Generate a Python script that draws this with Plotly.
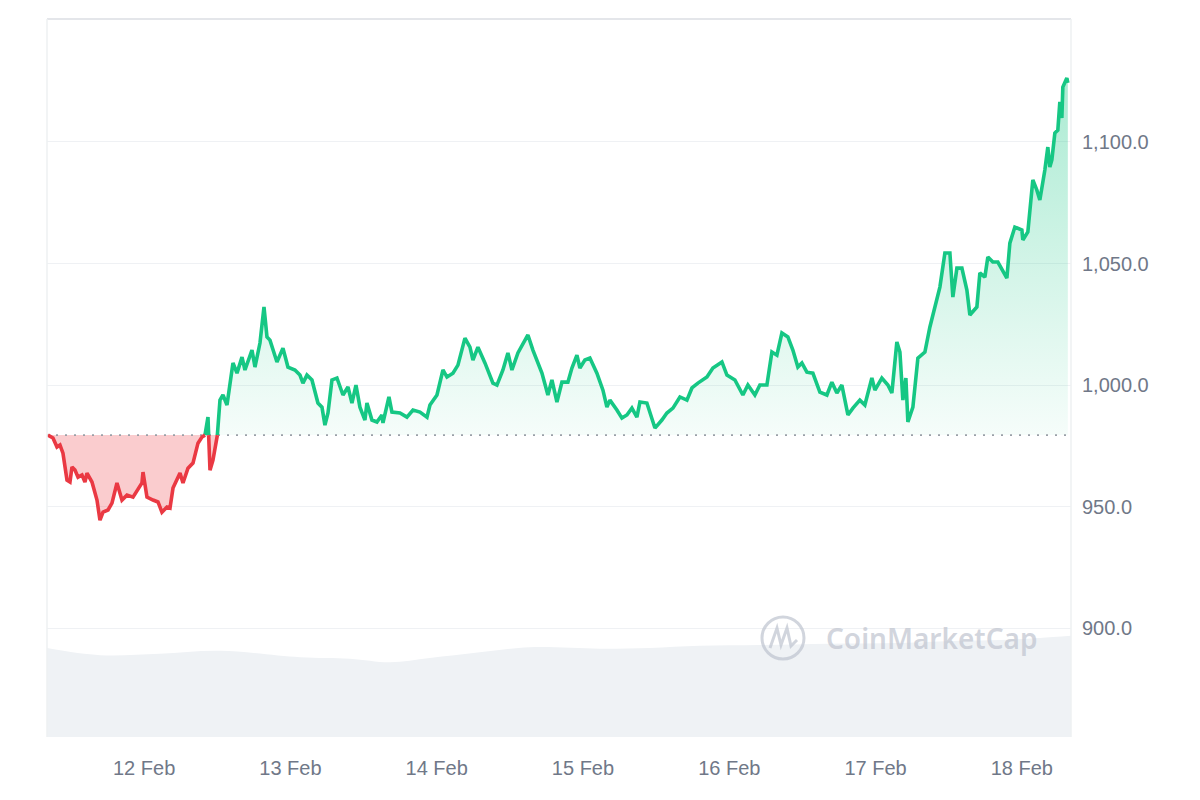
import plotly.graph_objects as go
import pandas as pd

# ---------------- data ----------------
START = "2023-02-11 08:04"          # left edge of the 7-day window
SPAN_HOURS = 168

hours = [
    0.16, 0.98, 1.64, 2.13, 2.62, 3.28, 3.77, 4.10, 4.59, 5.09,
    5.74, 6.23, 6.56, 7.38, 8.20, 8.69, 9.19, 10.01, 10.66, 11.48,
    12.30, 13.12, 14.11, 14.93, 15.58, 15.75, 16.40, 17.39, 18.21, 18.86,
    19.68, 20.18, 20.67, 21.82, 22.31, 23.13, 23.95, 24.77, 25.43, 25.92,
    26.41, 26.74, 27.23, 27.89, 28.38, 28.87, 29.53, 30.51, 31.17, 31.99,
    32.48, 33.63, 34.12, 34.94, 35.60, 36.09, 36.58, 37.73, 38.71, 39.53,
    40.68, 41.50, 41.99, 42.65, 43.47, 44.45, 45.11, 45.60, 46.10, 46.75,
    47.57, 48.56, 49.38, 50.03, 50.69, 51.34, 52.16, 52.49, 53.31, 54.13,
    54.95, 55.12, 56.10, 56.59, 57.91, 59.05, 60.04, 61.19, 62.34, 62.83,
    63.98, 64.96, 65.62, 66.60, 67.42, 68.57, 69.39, 69.88, 70.70, 71.85,
    73.16, 73.82, 74.80, 75.62, 76.28, 77.26, 78.90, 79.72, 81.20, 82.18,
    82.84, 83.66, 84.48, 85.46, 86.12, 86.94, 87.43, 88.25, 89.07, 90.22,
    91.21, 91.86, 92.35, 93.50, 94.32, 95.14, 95.96, 96.78, 97.28, 98.42,
    99.24, 99.74, 100.88, 101.70, 102.69, 103.84, 104.99, 105.81, 106.79, 108.27,
    109.25, 110.73, 111.55, 112.86, 114.17, 114.99, 116.14, 116.96, 118.11, 118.93,
    119.75, 120.57, 121.55, 122.37, 123.19, 123.85, 124.67, 125.65, 126.80, 127.95,
    128.77, 129.59, 130.41, 131.40, 132.22, 133.36, 134.18, 135.33, 135.83, 136.97,
    137.96, 138.61, 139.43, 139.93, 140.42, 140.91, 141.24, 142.06, 142.88, 144.03,
    144.85, 145.67, 146.49, 147.31, 148.13, 148.62, 149.28, 150.10, 150.92, 151.41,
    152.56, 153.05, 153.87, 154.36, 155.18, 156.00, 156.66, 157.48, 157.97, 158.79,
    159.94, 160.10, 160.92, 161.74, 162.40, 162.89, 163.71, 164.20, 164.53, 164.86,
    165.35, 165.84, 166.17, 166.50, 166.66, 167.32, 167.48,
]

prices = [
    979.4, 978.2, 974.5, 975.3, 972.0, 960.9, 960.1, 966.3, 965.0, 962.1,
    963.0, 960.1, 963.8, 960.1, 952.7, 944.4, 947.7, 948.6, 951.4, 959.7,
    952.7, 954.7, 953.9, 956.8, 959.7, 964.2, 953.9, 952.7, 951.9, 947.7,
    949.8, 949.4, 957.6, 963.8, 959.7, 965.8, 967.9, 976.1, 978.6, 979.4,
    986.8, 965.0, 969.1, 977.4, 993.8, 995.9, 991.8, 1009.1, 1004.9, 1011.5,
    1006.2, 1014.4, 1007.4, 1017.3, 1032.1, 1019.8, 1018.5, 1009.5, 1015.2, 1007.4,
    1006.2, 1004.1, 1000.8, 1004.1, 1002.1, 992.6, 990.9, 983.5, 988.5, 1002.1,
    1002.9, 995.9, 999.2, 992.6, 1000.0, 990.9, 985.6, 992.6, 985.6, 984.8,
    987.7, 984.4, 995.1, 988.9, 988.5, 986.8, 989.7, 988.9, 986.8, 991.8,
    995.9, 1006.2, 1003.3, 1004.9, 1008.2, 1019.3, 1015.6, 1010.3, 1015.6, 1009.1,
    1000.8, 1000.0, 1006.2, 1013.2, 1006.2, 1013.2, 1020.6, 1014.4, 1004.9, 995.9,
    1002.1, 993.0, 1001.2, 1001.2, 1007.0, 1012.3, 1007.0, 1010.3, 1011.1, 1004.9,
    997.9, 990.9, 993.8, 989.7, 986.4, 987.7, 990.5, 986.8, 993.0, 992.6,
    985.6, 982.3, 985.6, 988.5, 990.5, 995.1, 993.8, 998.8, 1000.8, 1003.3,
    1007.0, 1009.5, 1004.1, 1002.1, 995.9, 1000.0, 995.9, 1000.0, 1000.0, 1013.6,
    1012.3, 1021.4, 1019.8, 1014.4, 1007.4, 1009.1, 1005.3, 1004.9, 997.1, 995.9,
    1001.2, 996.7, 1000.0, 987.7, 990.5, 993.8, 991.8, 1002.9, 997.9, 1002.9,
    1000.0, 996.7, 1017.7, 1013.6, 993.8, 1002.9, 984.8, 990.9, 1011.1, 1013.6,
    1023.9, 1032.1, 1040.3, 1054.3, 1054.3, 1036.2, 1048.1, 1048.1, 1039.1, 1028.8,
    1032.1, 1046.1, 1044.4, 1052.7, 1050.6, 1050.6, 1047.3, 1044.0, 1058.4, 1065.0,
    1063.8, 1059.7, 1063.0, 1084.4, 1080.2, 1076.1, 1088.5, 1097.9, 1089.7, 1092.6,
    1103.7, 1104.9, 1116.5, 1109.9, 1122.6, 1126.3, 1124.3,
]

vol_hours = [0.0, 8.7, 18.5, 28.4, 41.5, 49.7, 56.3, 62.8, 71.0, 79.2,
             90.7, 98.9, 107.1, 117.0, 128.4, 139.9, 149.8, 156.3, 162.9, 168.0]
volumes = [12.4, 11.4, 11.6, 12.0, 11.1, 10.9, 10.4, 11.0, 11.8, 12.5,
           12.3, 12.4, 12.7, 12.8, 13.0, 13.1, 13.4, 13.5, 13.8, 14.1]

tick_dates = ["2023-02-12", "2023-02-13", "2023-02-14", "2023-02-15",
              "2023-02-16", "2023-02-17", "2023-02-18"]
tick_labels = ["12 Feb", "13 Feb", "14 Feb", "15 Feb", "16 Feb", "17 Feb", "18 Feb"]
y_ticks = [900, 950, 1000, 1050, 1100]
y_range = [855.2, 1150.6]

GREEN = "#16c784"
RED = "#ea3943"
FONT = "Liberation Sans, Arial, sans-serif"
TICK_COLOR = "#707888"

# ---------------- derived series ----------------
assert len(hours) == len(prices)
start = pd.Timestamp(START)
t = [start + pd.Timedelta(hours=h) for h in hours]
base = prices[0]

xs, ys = [], []
for i, p in enumerate(prices):
    if i > 0:
        p0 = prices[i - 1]
        if (p0 - base) * (p - base) < 0:
            f = (base - p0) / (p - p0)
            xs.append(t[i - 1] + (t[i] - t[i - 1]) * f)
            ys.append(base)
    xs.append(t[i])
    ys.append(p)

green_line = [y if y >= base else None for y in ys]
red_line = [y if y <= base else None for y in ys]
green_fill = [max(y, base) for y in ys]
red_fill = [min(y, base) for y in ys]
base_line = [base] * len(ys)

vt = [start + pd.Timedelta(hours=h) for h in vol_hours]
x_end = start + pd.Timedelta(hours=SPAN_HOURS)

fig = go.Figure()

# volume (background, own hidden axis)
fig.add_trace(go.Scatter(x=vt, y=volumes, yaxis="y2", mode="lines",
                         line=dict(width=0, shape="spline", color="#eff2f5"),
                         fill="tozeroy", fillcolor="#eff2f5", hoverinfo="skip"))

# green fill
fig.add_trace(go.Scatter(x=xs, y=base_line, mode="lines", line=dict(width=0),
                         hoverinfo="skip"))
fig.add_trace(go.Scatter(x=xs, y=green_fill, mode="lines", line=dict(width=0),
                         fill="tonexty",
                         fillgradient=dict(type="vertical", start=base, stop=max(prices),
                                           colorscale=[[0, "rgba(22,199,132,0.04)"],
                                                       [1, "rgba(22,199,132,0.36)"]]),
                         hoverinfo="skip"))
# red fill
fig.add_trace(go.Scatter(x=xs, y=base_line, mode="lines", line=dict(width=0),
                         hoverinfo="skip"))
fig.add_trace(go.Scatter(x=xs, y=red_fill, mode="lines", line=dict(width=0),
                         fill="tonexty", fillcolor="rgba(234,57,67,0.26)",
                         hoverinfo="skip"))

# dotted reference line at the opening price
fig.add_trace(go.Scatter(x=[start, x_end], y=[base, base], mode="lines",
                         line=dict(color="#9aa0a8", width=1.6, dash="2px,7px"),
                         hoverinfo="skip"))

# price lines
fig.add_trace(go.Scatter(x=xs, y=green_line, mode="lines",
                         line=dict(color=GREEN, width=3.6), connectgaps=False))
fig.add_trace(go.Scatter(x=xs, y=red_line, mode="lines",
                         line=dict(color=RED, width=3.6), connectgaps=False))

L, R, T, B = 47, 129, 19, 63
W, H = 1200, 800
pw, ph = W - L - R, H - T - B


def px(xp):
    return (xp - L) / pw


def py(yp):
    return (H - B - yp) / ph


shapes = [
    dict(type="line", xref="paper", yref="paper", x0=0, x1=1, y0=1, y1=1,
         line=dict(color="#e4e6ea", width=2)),
    dict(type="line", xref="paper", yref="paper", x0=0, x1=0, y0=0, y1=1,
         line=dict(color="#eef0f2", width=1.5)),
    dict(type="line", xref="paper", yref="paper", x0=1, x1=1, y0=0, y1=1,
         line=dict(color="#eef0f2", width=1.5)),
    # watermark logo ring
    dict(type="circle", xref="paper", yref="paper",
         x0=px(762), x1=px(804), y0=py(659), y1=py(617),
         line=dict(color="rgba(190,195,206,0.7)", width=3)),
    dict(type="path", xref="paper", yref="paper",
         path=(f"M {px(770)},{py(648)} L {px(777)},{py(628)} L {px(781)},{py(645)} "
               f"L {px(787)},{py(628)} L {px(791)},{py(646)} L {px(797)},{py(640)}"),
         line=dict(color="rgba(190,195,206,0.7)", width=3)),
]

fig.update_layout(
    width=W, height=H,
    margin=dict(l=L, r=R, t=T, b=B),
    paper_bgcolor="white", plot_bgcolor="white",
    showlegend=False,
    font=dict(family=FONT, color=TICK_COLOR, size=20),
    xaxis=dict(range=[start, x_end], tickvals=tick_dates, ticktext=tick_labels,
               showgrid=False, zeroline=False, showline=False, ticks="",
               ticklabelstandoff=17, tickfont=dict(size=20, color=TICK_COLOR)),
    yaxis=dict(range=y_range, side="right", tickvals=y_ticks, tickformat=",.1f",
               showgrid=True, gridcolor="#eff1f4", gridwidth=1, zeroline=False,
               showline=False, ticks="", ticklabelstandoff=10,
               tickfont=dict(size=20, color=TICK_COLOR)),
    yaxis2=dict(range=[0, 100], overlaying="y", visible=False, fixedrange=True),
    shapes=shapes,
    annotations=[dict(xref="paper", yref="paper", x=px(931), y=py(638),
                      text="CoinMarketCap", showarrow=False,
                      font=dict(family="Noto Sans, sans-serif", size=28, weight=600,
                                color="rgba(190,195,206,0.7)"),
                      xanchor="center", yanchor="middle")],
)

fig.write_html("out.html")
